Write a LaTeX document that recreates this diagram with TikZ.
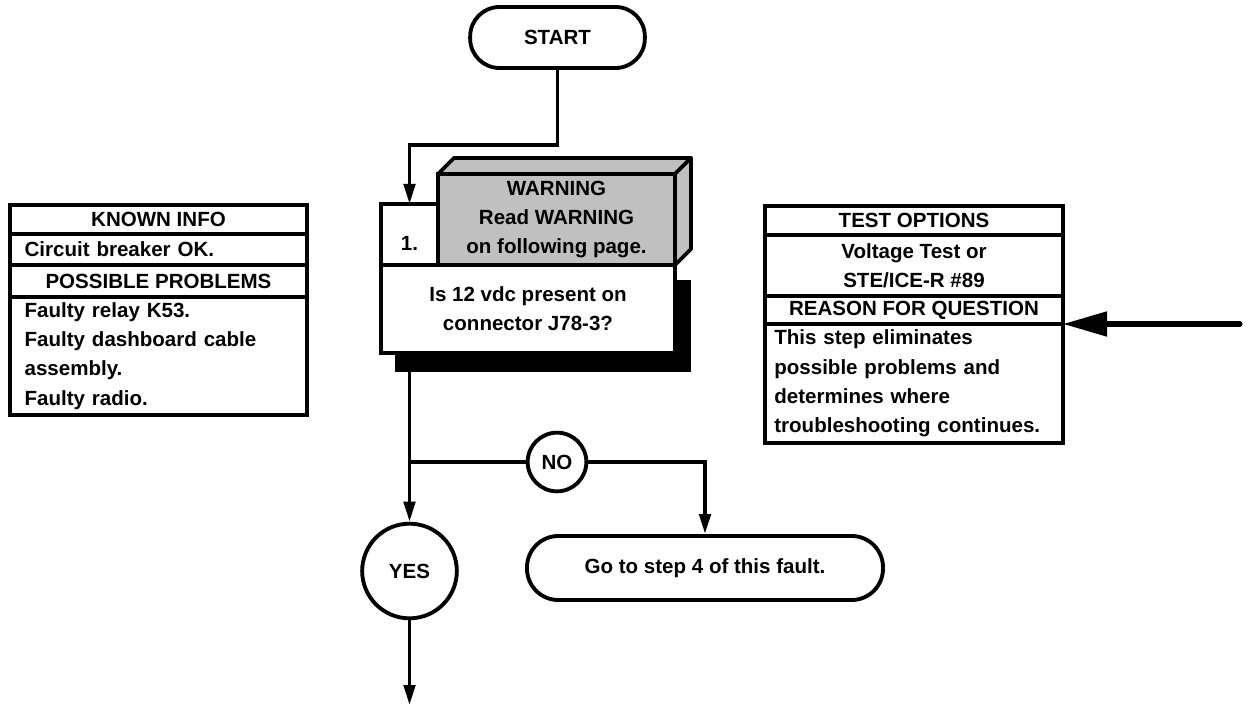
\documentclass[tikz,border=0pt]{standalone}
\usepackage{fontspec}
\setmainfont{Liberation Sans}
\usetikzlibrary{positioning,arrows.meta,backgrounds}
\definecolor{warngray}{RGB}{192,192,192}

\begin{document}
\begin{tikzpicture}[x=0.75pt,y=-0.75pt,
  every node/.style={font=\fontsize{15.4}{22}\selectfont\bfseries},
  cell/.style={draw=black,rectangle,line width=2.9pt,outer sep=0pt,inner sep=0pt,align=center,fill=white},
  lcell/.style={cell,align=left,inner xsep=11pt},
  term/.style={draw=black,rectangle,rounded corners=22pt,line width=2.9pt,align=center},
  answer/.style={draw=black,circle,line width=2.9pt,inner sep=0pt},
  link/.style={draw=black,line width=2.9pt},
  arrow/.style={link,-{Triangle[length=15pt,width=8.5pt]}},
  bigarrow/.style={draw=black,line width=3.8pt,line cap=round,-{Triangle[length=33pt,width=18pt]}}]
  \useasboundingbox (0,0) rectangle (1249,706);

  % known info / possible problems
  \node[cell,minimum width=222.75pt,minimum height=21.75pt] (known) at (158.5,219.5) {KNOWN INFO};
  \node[lcell,text width=200.75pt,minimum height=23.25pt,below=0pt of known] (circuit) {Circuit breaker OK.};
  \node[cell,minimum width=222.75pt,minimum height=24pt,below=0pt of circuit] (probs) {POSSIBLE PROBLEMS};
  \node[lcell,text width=200.75pt,minimum height=88.5pt,below=0pt of probs] (faults) {Faulty relay K53.\\Faulty dashboard cable\\assembly.\\Faulty radio.};

  % test options / reason for question
  \node[cell,minimum width=223.5pt,minimum height=21.75pt] (testopt) at (914,220.5) {TEST OPTIONS};
  \node[cell,minimum width=223.5pt,minimum height=45.75pt,below=0pt of testopt] (voltage) {Voltage Test or\\STE/ICE-R \#89};
  \node[cell,minimum width=223.5pt,minimum height=21pt,below=0pt of voltage] (reason) {REASON FOR QUESTION};
  \node[lcell,inner xsep=7pt,text width=209.5pt,minimum height=89.25pt,below=0pt of reason] (reasontxt) {This step eliminates\\possible problems and\\determines where\\troubleshooting continues.};

  % step 1
  \node[term,minimum width=131pt,minimum height=45.75pt] (start) at (557.5,37.5) {START};
  \node[cell,minimum width=42.75pt,minimum height=45.75pt] (numbox) at (409.5,234.5) {};
  \node[anchor=base] (numtxt) at (409.5,250) {1.};
  \node[cell,fill=warngray,minimum width=177.75pt,minimum height=68.25pt,anchor=south west] (warn) at (numbox.south east) {WARNING\\Read WARNING\\on following page.};
  \filldraw[fill=warngray,line width=2.9pt,line join=round] (warn.north west) -- ++(16,-16) -- ([shift={(16,-16)}]warn.north east) -- (warn.north east) -- cycle;
  \filldraw[fill=warngray,line width=2.9pt,line join=round] (warn.north east) -- ++(16,-16) -- ([shift={(16,-16)}]warn.south east) -- (warn.south east) -- cycle;
  \node[cell,minimum width=220.5pt,minimum height=66pt,anchor=north west] (question) at (numbox.south west) {Is 12 vdc present on\\connector J78-3?};
  \begin{scope}[on background layer]
    \fill[black] ([shift={(14,19)}]question.south west) rectangle ([shift={(16,15)}]question.north east);
  \end{scope}

  % answers
  \node[answer,minimum size=44pt] (no) at (557,462) {NO};
  \node[answer,minimum size=71pt] (yes) at (409.5,571) {YES};
  \node[term,minimum width=267pt,minimum height=48pt,rounded corners=23.5pt] (goto) at (705,568) {Go to step 4 of this fault.};

  \draw[arrow] (start.south) -- ++(0,75) -| (numbox.north);
  \draw[arrow] (numbox |- question.south) -- (yes.north);
  \draw[link] (numbox |- no) -- (no.west);
  \draw[arrow] (no.east) -| (goto.north);
  \coordinate (next) at (409.5,705);
  \draw[arrow] (yes.south) -- (next);
  \coordinate (qin) at (1240,324);
  \draw[bigarrow] (qin) -- (reason.south east);
\end{tikzpicture}
\end{document}
